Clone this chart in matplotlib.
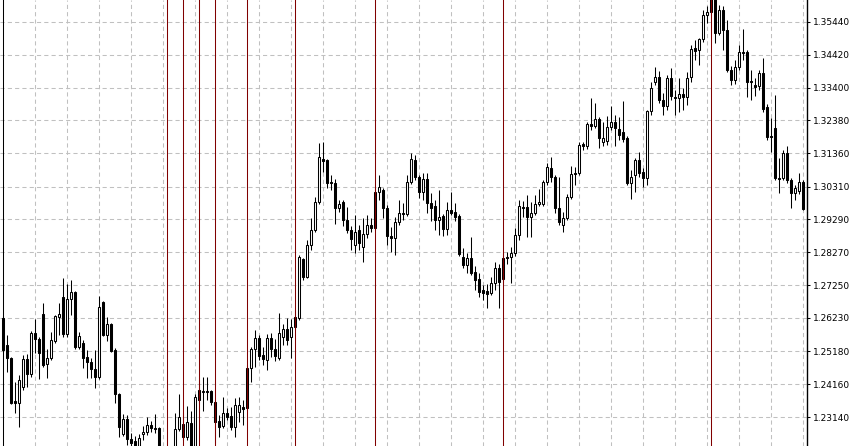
import matplotlib
matplotlib.use("Agg")
import matplotlib.pyplot as plt
import numpy as np

# daily candles, oldest first
opens = [
    1.2622, 1.2538, 1.2498, 1.2364, 1.2358, 1.2407, 1.2495, 1.2448, 1.2576, 1.2557,
    1.2635, 1.2479, 1.2498, 1.2551, 1.2625, 1.2688, 1.2572, 1.2682, 1.2703, 1.2532,
    1.2544, 1.2501, 1.2485, 1.2464, 1.2439, 1.2672, 1.2569, 1.2604, 1.2523, 1.2386,
    1.2261, 1.2308, 1.2246, 1.2239, 1.2224, 1.2261, 1.2267, 1.2289, 1.2280, 1.2280,
    1.2211, 1.2196, 1.2205, 1.2221, 1.2277, 1.2292, 1.2252, 1.2295, 1.2224, 1.2367,
    1.2392, 1.2395, 1.2395, 1.2361, 1.2302, 1.2286, 1.2327, 1.2317, 1.2283, 1.2330,
    1.2345, 1.2342, 1.2467, 1.2526, 1.2560, 1.2507, 1.2492, 1.2560, 1.2526, 1.2498,
    1.2563, 1.2588, 1.2563, 1.2594, 1.2622, 1.2806, 1.2750, 1.2850, 1.2896, 1.2984,
    1.3117, 1.3114, 1.3046, 1.3043, 1.2965, 1.2984, 1.2927, 1.2896, 1.2850, 1.2896,
    1.2843, 1.2884, 1.2912, 1.2903, 1.3015, 1.3021, 1.2965, 1.2878, 1.2871, 1.2921,
    1.2949, 1.2946, 1.3046, 1.3114, 1.3061, 1.3015, 1.3055, 1.2980, 1.2971, 1.2927,
    1.2940, 1.2899, 1.2959, 1.2952, 1.2940, 1.2812, 1.2787, 1.2809, 1.2766, 1.2744,
    1.2710, 1.2706, 1.2700, 1.2731, 1.2778, 1.2744, 1.2812, 1.2812, 1.2825, 1.2881,
    1.2968, 1.2968, 1.2937, 1.2949, 1.2977, 1.2977, 1.3046, 1.3089, 1.3061, 1.2965,
    1.2912, 1.2934, 1.2999, 1.3074, 1.3074, 1.3164, 1.3158, 1.3226, 1.3220, 1.3242,
    1.3170, 1.3173, 1.3217, 1.3233, 1.3211, 1.3202, 1.3183, 1.3043, 1.3068, 1.3114,
    1.3077, 1.3058, 1.3267, 1.3357, 1.3373, 1.3301, 1.3282, 1.3370, 1.3310, 1.3307,
    1.3320, 1.3310, 1.3373, 1.3463, 1.3457, 1.3491, 1.3566, 1.3575, 1.3622, 1.3510,
    1.3581, 1.3519, 1.3395, 1.3363, 1.3404, 1.3451, 1.3451, 1.3360, 1.3348, 1.3345,
    1.3385, 1.3279, 1.3189, 1.3214, 1.3058, 1.3058, 1.3136, 1.3052, 1.3012, 1.3018,
    1.3046,
]
highs = [
    1.2629, 1.2569, 1.2501, 1.2423, 1.2445, 1.2507, 1.2510, 1.2582, 1.2619, 1.2563,
    1.2669, 1.2526, 1.2579, 1.2632, 1.2669, 1.2747, 1.2728, 1.2741, 1.2706, 1.2579,
    1.2554, 1.2523, 1.2498, 1.2523, 1.2691, 1.2675, 1.2625, 1.2607, 1.2529, 1.2389,
    1.2323, 1.2320, 1.2264, 1.2255, 1.2261, 1.2286, 1.2314, 1.2302, 1.2323, 1.2283,
    1.2217, 1.2217, 1.2217, 1.2327, 1.2386, 1.2327, 1.2348, 1.2333, 1.2386, 1.2429,
    1.2439, 1.2439, 1.2398, 1.2367, 1.2320, 1.2376, 1.2342, 1.2345, 1.2373, 1.2376,
    1.2367, 1.2476, 1.2532, 1.2585, 1.2569, 1.2532, 1.2572, 1.2576, 1.2557, 1.2638,
    1.2604, 1.2622, 1.2619, 1.2647, 1.2818, 1.2809, 1.2865, 1.2934, 1.2999, 1.3167,
    1.3170, 1.3117, 1.3068, 1.3055, 1.2990, 1.2990, 1.2968, 1.2909, 1.2943, 1.2912,
    1.2934, 1.2943, 1.2934, 1.3027, 1.3068, 1.3027, 1.2974, 1.2906, 1.2937, 1.2990,
    1.2980, 1.3068, 1.3136, 1.3130, 1.3068, 1.3074, 1.3074, 1.3012, 1.2990, 1.3021,
    1.2946, 1.2984, 1.3015, 1.2980, 1.2946, 1.2840, 1.2825, 1.2875, 1.2784, 1.2762,
    1.2725, 1.2728, 1.2750, 1.2797, 1.2790, 1.2825, 1.2828, 1.2843, 1.2903, 1.2990,
    1.2987, 1.3005, 1.2984, 1.3005, 1.3024, 1.3052, 1.3105, 1.3124, 1.3068, 1.3061,
    1.2952, 1.3008, 1.3096, 1.3093, 1.3170, 1.3170, 1.3233, 1.3307, 1.3292, 1.3248,
    1.3233, 1.3251, 1.3282, 1.3254, 1.3248, 1.3298, 1.3189, 1.3083, 1.3121, 1.3139,
    1.3089, 1.3270, 1.3357, 1.3404, 1.3391, 1.3323, 1.3379, 1.3401, 1.3332, 1.3370,
    1.3339, 1.3388, 1.3472, 1.3488, 1.3494, 1.3581, 1.3594, 1.3644, 1.3637, 1.3597,
    1.3594, 1.3550, 1.3407, 1.3426, 1.3472, 1.3522, 1.3457, 1.3395, 1.3370, 1.3395,
    1.3432, 1.3289, 1.3245, 1.3317, 1.3121, 1.3145, 1.3158, 1.3058, 1.3036, 1.3074,
    1.3052,
]
lows = [
    1.2516, 1.2454, 1.2354, 1.2327, 1.2283, 1.2398, 1.2407, 1.2439, 1.2513, 1.2432,
    1.2470, 1.2435, 1.2492, 1.2544, 1.2569, 1.2563, 1.2563, 1.2632, 1.2526, 1.2526,
    1.2467, 1.2435, 1.2435, 1.2404, 1.2432, 1.2566, 1.2551, 1.2516, 1.2358, 1.2252,
    1.2255, 1.2227, 1.2211, 1.2205, 1.2211, 1.2242, 1.2258, 1.2267, 1.2264, 1.2196,
    1.2174, 1.2180, 1.2186, 1.2205, 1.2270, 1.2242, 1.2242, 1.2211, 1.2211, 1.2354,
    1.2333, 1.2367, 1.2351, 1.2233, 1.2252, 1.2280, 1.2305, 1.2274, 1.2252, 1.2298,
    1.2289, 1.2336, 1.2423, 1.2470, 1.2492, 1.2476, 1.2460, 1.2501, 1.2488, 1.2492,
    1.2538, 1.2538, 1.2498, 1.2585, 1.2616, 1.2741, 1.2747, 1.2834, 1.2890, 1.2977,
    1.3077, 1.3027, 1.3021, 1.2915, 1.2952, 1.2909, 1.2887, 1.2834, 1.2825, 1.2834,
    1.2797, 1.2871, 1.2890, 1.2896, 1.2990, 1.2934, 1.2850, 1.2828, 1.2818, 1.2912,
    1.2927, 1.2940, 1.3040, 1.3052, 1.2996, 1.2990, 1.2949, 1.2924, 1.2896, 1.2881,
    1.2878, 1.2881, 1.2943, 1.2924, 1.2815, 1.2778, 1.2762, 1.2756, 1.2710, 1.2688,
    1.2678, 1.2653, 1.2694, 1.2710, 1.2653, 1.2731, 1.2790, 1.2731, 1.2815, 1.2865,
    1.2937, 1.2875, 1.2875, 1.2943, 1.2971, 1.2971, 1.3036, 1.3046, 1.2949, 1.2912,
    1.2890, 1.2927, 1.2993, 1.3036, 1.3068, 1.3145, 1.3149, 1.3208, 1.3214, 1.3152,
    1.3158, 1.3161, 1.3208, 1.3158, 1.3177, 1.3170, 1.3036, 1.2993, 1.3015, 1.3061,
    1.3030, 1.3036, 1.3254, 1.3348, 1.3292, 1.3254, 1.3270, 1.3301, 1.3254, 1.3264,
    1.3270, 1.3286, 1.3357, 1.3426, 1.3410, 1.3482, 1.3541, 1.3566, 1.3479, 1.3503,
    1.3457, 1.3388, 1.3348, 1.3351, 1.3395, 1.3426, 1.3310, 1.3301, 1.3314, 1.3332,
    1.3264, 1.3177, 1.3139, 1.3052, 1.3012, 1.3052, 1.3043, 1.2965, 1.2990, 1.3008,
    1.2959,
]
closes = [
    1.2523, 1.2498, 1.2358, 1.2358, 1.2429, 1.2495, 1.2448, 1.2576, 1.2557, 1.2513,
    1.2476, 1.2498, 1.2554, 1.2629, 1.2635, 1.2572, 1.2682, 1.2703, 1.2532, 1.2566,
    1.2498, 1.2485, 1.2464, 1.2439, 1.2657, 1.2569, 1.2604, 1.2520, 1.2386, 1.2283,
    1.2308, 1.2246, 1.2233, 1.2224, 1.2249, 1.2267, 1.2289, 1.2280, 1.2277, 1.2221,
    1.2186, 1.2211, 1.2211, 1.2277, 1.2314, 1.2252, 1.2298, 1.2224, 1.2376, 1.2398,
    1.2395, 1.2392, 1.2361, 1.2298, 1.2283, 1.2327, 1.2314, 1.2283, 1.2351, 1.2351,
    1.2339, 1.2467, 1.2526, 1.2560, 1.2504, 1.2495, 1.2560, 1.2526, 1.2504, 1.2576,
    1.2588, 1.2554, 1.2594, 1.2625, 1.2812, 1.2750, 1.2850, 1.2896, 1.2984, 1.3124,
    1.3111, 1.3043, 1.3043, 1.2965, 1.2977, 1.2927, 1.2896, 1.2868, 1.2890, 1.2856,
    1.2884, 1.2912, 1.2903, 1.3015, 1.3030, 1.2965, 1.2878, 1.2871, 1.2921, 1.2949,
    1.2946, 1.3046, 1.3117, 1.3061, 1.3015, 1.3055, 1.2980, 1.2965, 1.2927, 1.2937,
    1.2899, 1.2959, 1.2949, 1.2937, 1.2822, 1.2787, 1.2809, 1.2762, 1.2741, 1.2703,
    1.2700, 1.2697, 1.2731, 1.2778, 1.2734, 1.2809, 1.2809, 1.2825, 1.2881, 1.2971,
    1.2965, 1.2937, 1.2949, 1.2977, 1.2984, 1.3046, 1.3093, 1.3061, 1.2965, 1.2921,
    1.2934, 1.2999, 1.3071, 1.3071, 1.3161, 1.3158, 1.3226, 1.3220, 1.3242, 1.3183,
    1.3183, 1.3217, 1.3233, 1.3214, 1.3192, 1.3180, 1.3043, 1.3061, 1.3114, 1.3074,
    1.3058, 1.3267, 1.3339, 1.3373, 1.3301, 1.3282, 1.3370, 1.3314, 1.3307, 1.3320,
    1.3310, 1.3370, 1.3460, 1.3454, 1.3491, 1.3566, 1.3575, 1.3628, 1.3510, 1.3581,
    1.3519, 1.3395, 1.3363, 1.3404, 1.3451, 1.3447, 1.3357, 1.3357, 1.3342, 1.3385,
    1.3273, 1.3186, 1.3186, 1.3058, 1.3055, 1.3136, 1.3052, 1.3012, 1.3027, 1.3046,
    1.2962,
]

price_ticks = [1.23140, 1.24160, 1.25180, 1.26230, 1.27250, 1.28270, 1.29290,
               1.30310, 1.31360, 1.32380, 1.33400, 1.34420, 1.35440]
tick_labels = ["1.23140", "1.24160", "1.25180", "1.26230", "1.27250", "1.28270", "1.29290",
               "1.30310", "1.31360", "1.32380", "1.33400", "1.34420", "1.35440"]
event_bars = [41, 45, 49, 53, 61, 73, 93, 125, 177]
first_bar_line = 0
grid_every = 8

o = np.array(opens)
c = np.array(closes)
x = np.arange(len(c))
up = c >= o
body_low = np.minimum(o, c)
body_h = np.abs(c - o)

fig = plt.figure(figsize=(8.5, 4.46), dpi=100)
ax = fig.add_axes([0, 0, 807 / 850, 1])

ax.vlines(x, lows, highs, color="black", linewidth=0.75, zorder=3)
ax.bar(x[up], body_h[up], bottom=body_low[up], width=0.6,
       color="white", edgecolor="black", linewidth=0.75, zorder=4)
ax.bar(x[~up], body_h[~up], bottom=body_low[~up], width=0.6,
       color="black", edgecolor="black", linewidth=0.75, zorder=4)

for b in event_bars:
    ax.axvline(b, color="#800000", linewidth=0.75, zorder=5)
ax.axvline(first_bar_line, color="black", linewidth=0.75, zorder=5)

ax.set_xlim(-0.75, 201)
ax.set_ylim(1.22237, 1.36125)

ax.set_xticks(np.arange(grid_every, len(c), grid_every))
ax.set_yticks(price_ticks)
ax.set_yticklabels(tick_labels)
ax.grid(True, color="#c0c0c0", linestyle=(0, (4, 3)), linewidth=0.75)
ax.set_axisbelow(True)

ax.yaxis.tick_right()
ax.tick_params(axis="x", length=0, labelbottom=False)
ax.tick_params(axis="y", length=2, width=0.75, pad=2, labelsize=6.5, colors="black")
for side in ["top", "left", "bottom"]:
    ax.spines[side].set_visible(False)
ax.spines["right"].set_linewidth(1)

fig.savefig("out.png", dpi=100)
plt.close(fig)
